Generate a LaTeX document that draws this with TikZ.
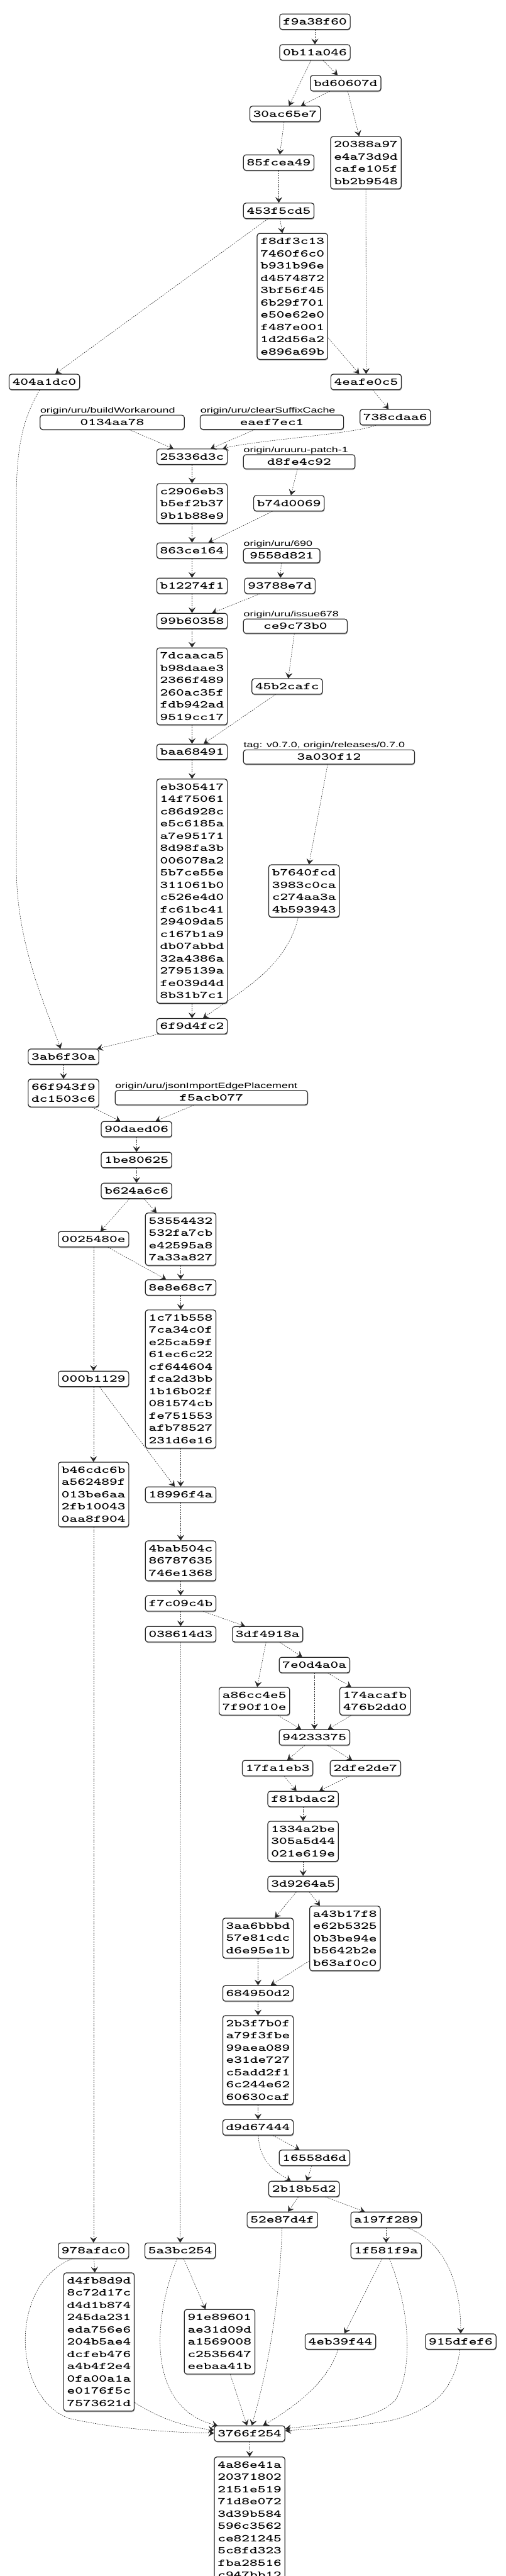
\documentclass[tikz,border=0pt]{standalone}
\usepackage{fontspec}
\newfontfamily\lblfont{Liberation Sans}
\usetikzlibrary{arrows.meta,calc,shadows}
\def\XU{0.724}
\begin{document}
\begin{tikzpicture}[x=\XU pt,y=-1pt,
  cbox/.style={draw=black!85, line width=1.2pt, rounded corners=4pt, fill=white,
    drop shadow={shadow xshift=0.6pt, shadow yshift=-1.6pt, fill=black!35, opacity=1},
    yscale=0.68, inner xsep=2pt, inner ysep=10.45pt, minimum width={155*\XU*1pt},
    align=center, font=\ttfamily\bfseries\fontsize{24.2}{28.7}\selectfont},
  lbox/.style={cbox, inner ysep=9pt, minimum width={#1*\XU*1pt}},
  lbl/.style={yscale=0.68, inner sep=0pt, anchor=base west,
    font=\lblfont\fontsize{17.9}{20}\selectfont},
  lnk/.style={draw=black!85, line width=0.55pt, dash pattern=on 2pt off 1.6pt,
    -{Stealth[length=9pt,width=11pt,inset=3.5pt]}},
]
\fill[white] (0,0) rectangle (1110.5,4096);
\useasboundingbox (0,0) rectangle (1110.5,4096);

% ---- nodes ----
\node[cbox] (hf9a38f60) at (692,34.5) {f9a38f60};
\node[cbox] (h0b11a046) at (692,83.3) {0b11a046};
\node[cbox] (hbd60607d) at (759.5,132.3) {bd60607d};
\node[cbox] (h30ac65e7) at (626.5,181.2) {30ac65e7};
\node[cbox] (h20388a97) at (804,258.7) {20388a97\\e4a73d9d\\cafe105f\\bb2b9548};
\node[cbox] (h85fcea49) at (612.5,258.5) {85fcea49};
\node[cbox] (h453f5cd5) at (612.5,335.2) {453f5cd5};
\node[cbox] (hf8df3c13) at (642.5,471.3) {f8df3c13\\7460f6c0\\b931b96e\\d4574872\\3bf56f45\\6b29f701\\e50e62e0\\f487e001\\1d2d56a2\\e896a69b};
\node[cbox] (h404a1dc0) at (97.5,607.3) {404a1dc0};
\node[cbox] (h4eafe0c5) at (804.5,607.3) {4eafe0c5};
\node[cbox] (h738cdaa6) at (868.5,663.3) {738cdaa6};
\node[lbox=317] (h0134aa78) at (246.5,671.5) {0134aa78};
\node[lbox=315] (heaef7ec1) at (597.5,671.3) {eaef7ec1};
\node[cbox] (h25336d3c) at (422,726.2) {25336d3c};
\node[lbox=245] (hd8fe4c92) at (657.5,734.3) {d8fe4c92};
\node[cbox] (hc2906eb3) at (422,800.7) {c2906eb3\\b5ef2b37\\9b1b88e9};
\node[cbox] (hb74d0069) at (635,800.2) {b74d0069};
\node[cbox] (h863ce164) at (422,875.5) {863ce164};
\node[lbox=168] (h9558d821) at (619,883.7) {9558d821};
\node[cbox] (hb12274f1) at (422,931.5) {b12274f1};
\node[cbox] (h93788e7d) at (615,931.5) {93788e7d};
\node[cbox] (h99b60358) at (422,987.5) {99b60358};
\node[lbox=228] (hce9c73b0) at (649,995.7) {ce9c73b0};
\node[cbox] (h7dcaaca5) at (422,1091.3) {7dcaaca5\\b98daae3\\2366f489\\260ac35f\\fdb942ad\\9519cc17};
\node[cbox] (h45b2cafc) at (631,1091.5) {45b2cafc};
\node[cbox] (hbaa68491) at (422,1195.5) {baa68491};
\node[lbox=376] (h3a030f12) at (723,1203.7) {3a030f12};
\node[cbox] (heb305417) at (422,1417) {eb305417\\14f75061\\c86d928c\\e5c6185a\\a7e95171\\8d98fa3b\\006078a2\\5b7ce55e\\311061b0\\c526e4d0\\fc61bc41\\29409da5\\c167b1a9\\db07abbd\\32a4386a\\2795139a\\fe039d4d\\8b31b7c1};
\node[cbox] (hb7640fcd) at (668,1416.7) {b7640fcd\\3983c0ca\\c274aa3a\\4b593943};
\node[cbox] (h6f9d4fc2) at (422,1631.8) {6f9d4fc2};
\node[cbox] (h3ab6f30a) at (139.5,1680.2) {3ab6f30a};
\node[cbox] (h66f943f9) at (139.5,1738) {66f943f9\\dc1503c6};
\node[lbox=423] (hf5acb077) at (464.5,1745.5) {f5acb077};
\node[cbox] (h90daed06) at (300,1795.5) {90daed06};
\node[cbox] (h1be80625) at (300,1844.5) {1be80625};
\node[cbox] (hb624a6c6) at (300,1893.5) {b624a6c6};
\node[cbox] (h0025480e) at (205.5,1970.5) {0025480e};
\node[cbox] (h53554432) at (397,1970.3) {53554432\\532fa7cb\\e42595a8\\7a33a827};
\node[cbox] (h8e8e68c7) at (397,2047.2) {8e8e68c7};
\node[cbox] (h1c71b558) at (397,2192.8) {1c71b558\\7ca34c0f\\e25ca59f\\61ec6c22\\cf644604\\fca2d3bb\\1b16b02f\\081574cb\\fe751553\\afb78527\\231d6e16};
\node[cbox] (h000b1129) at (205.5,2192.5) {000b1129};
\node[cbox] (hb46cdc6b) at (205.5,2376.3) {b46cdc6b\\a562489f\\013be6aa\\2fb10043\\0aa8f904};
\node[cbox] (h18996f4a) at (397,2376.5) {18996f4a};
\node[cbox] (h4bab504c) at (397,2481.8) {4bab504c\\86787635\\746e1368};
\node[cbox] (hf7c09c4b) at (397,2549.5) {f7c09c4b};
\node[cbox] (h038614d3) at (397,2598.5) {038614d3};
\node[cbox] (h3df4918a) at (588,2598.5) {3df4918a};
\node[cbox] (h7e0d4a0a) at (691,2647.5) {7e0d4a0a};
\node[cbox] (ha86cc4e5) at (559,2705) {a86cc4e5\\7f90f10e};
\node[cbox] (h174acafb) at (824,2705) {174acafb\\476b2dd0};
\node[cbox] (h94233375) at (691,2762.5) {94233375};
\node[cbox] (h17fa1eb3) at (610,2811.5) {17fa1eb3};
\node[cbox] (h2dfe2de7) at (803,2811.5) {2dfe2de7};
\node[cbox] (hf81bdac2) at (666,2860.5) {f81bdac2};
\node[cbox] (h1334a2be) at (666,2927.8) {1334a2be\\305a5d44\\021e619e};
\node[cbox] (h3d9264a5) at (666,2995.5) {3d9264a5};
\node[cbox] (h3aa6bbbd) at (567,3081.7) {3aa6bbbd\\57e81cdc\\d6e95e1b};
\node[cbox] (ha43b17f8) at (758,3082.2) {a43b17f8\\e62b5325\\0b3be94e\\b5642b2e\\b63af0c0};
\node[cbox] (h684950d2) at (567,3169.5) {684950d2};
\node[cbox] (h2b3f7b0f) at (567,3275.8) {2b3f7b0f\\a79f3fbe\\99aea089\\e31de727\\c5add2f1\\6c244e62\\60630caf};
\node[cbox] (hd9d67444) at (567,3382.7) {d9d67444};
\node[cbox] (h16558d6d) at (691,3431) {16558d6d};
\node[cbox] (h2b18b5d2) at (668,3480.5) {2b18b5d2};
\node[cbox] (h52e87d4f) at (620.5,3529.5) {52e87d4f};
\node[cbox] (ha197f289) at (848.5,3529.5) {a197f289};
\node[cbox] (h978afdc0) at (205.5,3578.7) {978afdc0};
\node[cbox] (h5a3bc254) at (396,3578.7) {5a3bc254};
\node[cbox] (h1f581f9a) at (848.5,3578.7) {1f581f9a};
\node[cbox] (hd4fb8d9d) at (217.5,3723.8) {d4fb8d9d\\8c72d17c\\d4d1b874\\245da231\\eda756e6\\204b5ae4\\dcfeb476\\a4b4f2e4\\0fa00a1a\\e0176f5c\\7573621d};
\node[cbox] (h91e89601) at (482.5,3723.5) {91e89601\\ae31d09d\\a1569008\\c2535647\\eebaa41b};
\node[cbox] (h4eb39f44) at (748,3723.2) {4eb39f44};
\node[cbox] (h915dfef6) at (1012.5,3723.2) {915dfef6};
\node[cbox] (h3766f254) at (548.5,3869.5) {3766f254};
\node[cbox, anchor=north] (h4a86e41a) at (548.5,3906.3) {4a86e41a\\20371802\\2151e519\\71d8e072\\3d39b584\\596c3562\\ce821245\\5c8fd323\\fba28516\\c947bb12};

% ---- ref labels ----
\node[lbl] (l0134aa78) at ($(h0134aa78.north west)+(1,-3.5)$) {origin/uru/buildWorkaround};
\node[lbl] (leaef7ec1) at ($(heaef7ec1.north west)+(1,-3.5)$) {origin/uru/clearSuffixCache};
\node[lbl] (ld8fe4c92) at ($(hd8fe4c92.north west)+(1,-3.5)$) {origin/uruuru-patch-1};
\node[lbl] (l9558d821) at ($(h9558d821.north west)+(1,-3.5)$) {origin/uru/690};
\node[lbl] (lce9c73b0) at ($(hce9c73b0.north west)+(1,-3.5)$) {origin/uru/issue678};
\node[lbl] (l3a030f12) at ($(h3a030f12.north west)+(1,-3.5)$) {tag: v0.7.0, origin/releases/0.7.0};
\node[lbl] (lf5acb077) at ($(hf5acb077.north west)+(1,-3.5)$) {origin/uru/jsonImportEdgePlacement};

% ---- edges ----
\draw[lnk] (hf9a38f60) -- (h0b11a046);
\draw[lnk] (h0b11a046) -- (hbd60607d);
\draw[lnk] (h0b11a046) -- (h30ac65e7);
\draw[lnk] (hbd60607d) -- (h30ac65e7);
\draw[lnk] (hbd60607d) -- (h20388a97);
\draw[lnk] (h30ac65e7) -- (h85fcea49);
\draw[lnk] (h85fcea49) -- (h453f5cd5);
\draw[lnk] (h20388a97) -- (h4eafe0c5);
\draw[lnk] (h453f5cd5) -- (hf8df3c13);
\draw[lnk] (h453f5cd5) -- (h404a1dc0);
\draw[lnk] (hf8df3c13) -- (h4eafe0c5);
\draw[lnk] (h4eafe0c5) -- (h738cdaa6);
\draw[lnk] (h0134aa78) -- (h25336d3c);
\draw[lnk] (heaef7ec1) -- (h25336d3c);
\draw[lnk] (h738cdaa6) .. controls (780,690) and (560,700) .. (h25336d3c);
\draw[lnk] (h404a1dc0) .. controls (55,660) and (38,700) .. (36,780) -- (36,1380) .. controls (36,1500) and (100,1600) .. (h3ab6f30a);
\draw[lnk] (h25336d3c) -- (hc2906eb3);
\draw[lnk] (hd8fe4c92) -- (hb74d0069);
\draw[lnk] (hc2906eb3) -- (h863ce164);
\draw[lnk] (hb74d0069) -- (h863ce164);
\draw[lnk] (h863ce164) -- (hb12274f1);
\draw[lnk] (h9558d821) -- (h93788e7d);
\draw[lnk] (hb12274f1) -- (h99b60358);
\draw[lnk] (h93788e7d) -- (h99b60358);
\draw[lnk] (h99b60358) -- (h7dcaaca5);
\draw[lnk] (hce9c73b0) -- (h45b2cafc);
\draw[lnk] (h7dcaaca5) -- (hbaa68491);
\draw[lnk] (h45b2cafc) -- (hbaa68491);
\draw[lnk] (hbaa68491) -- (heb305417);
\draw[lnk] (h3a030f12) -- (hb7640fcd);
\draw[lnk] (heb305417) -- (h6f9d4fc2);
\draw[lnk] (hb7640fcd) .. controls (630,1540) and (520,1580) .. (h6f9d4fc2);
\draw[lnk] (h6f9d4fc2) -- (h3ab6f30a);
\draw[lnk] (h3ab6f30a) -- (h66f943f9);
\draw[lnk] (h66f943f9) -- (h90daed06);
\draw[lnk] (hf5acb077) -- (h90daed06);
\draw[lnk] (h90daed06) -- (h1be80625);
\draw[lnk] (h1be80625) -- (hb624a6c6);
\draw[lnk] (hb624a6c6) -- (h0025480e);
\draw[lnk] (hb624a6c6) -- (h53554432);
\draw[lnk] (h0025480e) -- (h8e8e68c7);
\draw[lnk] (h53554432) -- (h8e8e68c7);
\draw[lnk] (h0025480e) -- (h000b1129);
\draw[lnk] (h8e8e68c7) -- (h1c71b558);
\draw[lnk] (h000b1129) -- (hb46cdc6b);
\draw[lnk] (h000b1129) -- (h18996f4a);
\draw[lnk] (h1c71b558) -- (h18996f4a);
\draw[lnk] (h18996f4a) -- (h4bab504c);
\draw[lnk] (h4bab504c) -- (hf7c09c4b);
\draw[lnk] (hf7c09c4b) -- (h038614d3);
\draw[lnk] (hf7c09c4b) -- (h3df4918a);
\draw[lnk] (h3df4918a) -- (h7e0d4a0a);
\draw[lnk] (h3df4918a) -- (ha86cc4e5);
\draw[lnk] (h7e0d4a0a) -- (h174acafb);
\draw[lnk] (h7e0d4a0a) -- (h94233375);
\draw[lnk] (ha86cc4e5) -- (h94233375);
\draw[lnk] (h174acafb) -- (h94233375);
\draw[lnk] (h94233375) -- (h17fa1eb3);
\draw[lnk] (h94233375) -- (h2dfe2de7);
\draw[lnk] (h17fa1eb3) -- (hf81bdac2);
\draw[lnk] (h2dfe2de7) -- (hf81bdac2);
\draw[lnk] (hf81bdac2) -- (h1334a2be);
\draw[lnk] (h1334a2be) -- (h3d9264a5);
\draw[lnk] (h3d9264a5) -- (h3aa6bbbd);
\draw[lnk] (h3d9264a5) -- (ha43b17f8);
\draw[lnk] (h3aa6bbbd) -- (h684950d2);
\draw[lnk] (ha43b17f8) -- (h684950d2);
\draw[lnk] (h684950d2) -- (h2b3f7b0f);
\draw[lnk] (h2b3f7b0f) -- (hd9d67444);
\draw[lnk] (hd9d67444) -- (h16558d6d);
\draw[lnk] (hd9d67444) .. controls (570,3440) and (610,3455) .. (h2b18b5d2);
\draw[lnk] (h16558d6d) -- (h2b18b5d2);
\draw[lnk] (h2b18b5d2) -- (h52e87d4f);
\draw[lnk] (h2b18b5d2) -- (ha197f289);
\draw[lnk] (ha197f289) -- (h1f581f9a);
\draw[lnk] (ha197f289) .. controls (960,3560) and (1012,3610) .. (h915dfef6);
\draw[lnk] (h1f581f9a) -- (h4eb39f44);
\draw[lnk] (h1f581f9a) .. controls (905,3680) and (905,3770) .. (870,3815) .. controls (830,3850) and (700,3855) .. (h3766f254);
\draw[lnk] (h915dfef6) .. controls (1000,3800) and (950,3835) .. (850,3850) .. controls (760,3860) and (680,3862) .. (h3766f254);
\draw[lnk] (h52e87d4f) .. controls (612,3700) and (575,3800) .. (h3766f254);
\draw[lnk] (h4eb39f44) .. controls (720,3790) and (640,3830) .. (h3766f254);
\draw[lnk] (h91e89601) -- (h3766f254);
\draw[lnk] ([yshift=14pt]hd4fb8d9d.south east) .. controls (360,3850) and (420,3860) .. (h3766f254);
\draw[lnk] (h5a3bc254) .. controls (330,3700) and (330,3830) .. (h3766f254);
\draw[lnk] (h978afdc0) .. controls (20,3630) and (25,3810) .. (150,3845) .. controls (250,3862) and (380,3868) .. (h3766f254);
\draw[lnk] (h978afdc0) -- (hd4fb8d9d);
\draw[lnk] (h5a3bc254) -- (h91e89601);
\draw[lnk] (hb46cdc6b) -- (h978afdc0);
\draw[lnk] (h038614d3) -- (h5a3bc254);
\draw[lnk] (h3766f254) -- (h4a86e41a);
\end{tikzpicture}
\end{document}
